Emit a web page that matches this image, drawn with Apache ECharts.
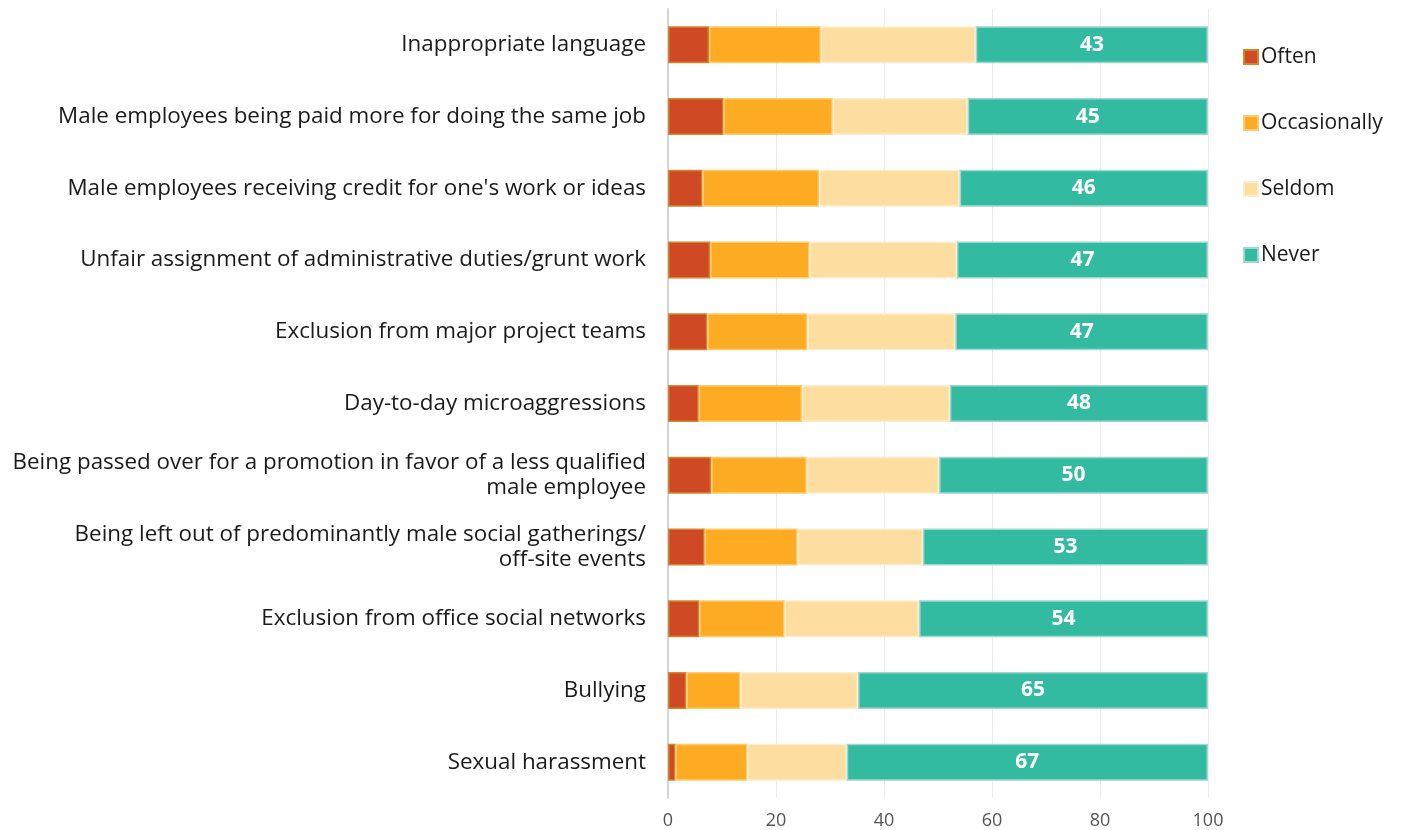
<!DOCTYPE html>
<html><head><meta charset="utf-8">
<script src="https://cdn.jsdelivr.net/npm/echarts@6/dist/echarts.min.js"></script>
<style>html,body{margin:0;padding:0;background:#fff}#c{width:1401px;height:830px}</style>
</head><body><div id="c"></div>
<script>
const categories = [
  "Inappropriate language",
  "Male employees being paid more for doing the same job",
  "Male employees receiving credit for one's work or ideas",
  "Unfair assignment of administrative duties/grunt work",
  "Exclusion from major project teams",
  "Day-to-day microaggressions",
  "Being passed over for a promotion in favor of a less qualified\nmale employee",
  "Being left out of predominantly male social gatherings/\noff-site events",
  "Exclusion from office social networks",
  "Bullying",
  "Sexual harassment"
];
const often        = [7.6, 10.3, 6.4, 7.8, 7.3, 5.7, 8.0, 6.8, 5.8, 3.4, 1.4];
const occasionally = [20.7, 20.2, 21.6, 18.4, 18.5, 19.1, 17.7, 17.2, 15.8, 10.0, 13.3];
const seldom       = [28.7, 25.0, 26.0, 27.3, 27.4, 27.4, 24.5, 23.2, 24.9, 21.8, 18.4];
const never        = [43.0, 44.5, 46.0, 46.5, 46.8, 47.8, 49.8, 52.8, 53.5, 64.8, 66.9];
const xTicks = [0, 20, 40, 60, 80, 100];

const font = '"Open Sans", "Noto Sans", sans-serif';
function s(name, data, color, border, label) {
  return {
    name, type: 'bar', stack: 'all', data, barWidth: 37,
    itemStyle: { color, borderColor: border, borderWidth: 1.5 },
    label: label ? { show: true, position: 'inside', color: '#fff', fontWeight: 'bold', fontSize: 21, fontFamily: font,
      formatter: p => Math.round(p.value) } : { show: false },
    emphasis: { disabled: true }
  };
}
const chart = echarts.init(document.getElementById('c'));
chart.setOption({
  animation: false,
  textStyle: { fontFamily: font },
  grid: { left: 668, right: 193, top: 9, bottom: 31, containLabel: false },
  legend: {
    orient: 'vertical', left: 1243, top: 46, padding: 0, itemGap: 44, itemWidth: 14, itemHeight: 14,
    icon: 'rect', textStyle: { fontSize: 21, lineHeight: 22, color: '#1a1a1a', fontFamily: font, padding: [0, 0, 0, -2] },
    data: ['Often', 'Occasionally', 'Seldom', 'Never']
  },
  xAxis: {
    type: 'value', min: 0, max: 100, interval: 20,
    axisLine: { show: false }, axisTick: { show: false },
    splitLine: { show: true, lineStyle: { color: '#ececec', width: 1 } },
    axisLabel: { color: '#555', fontSize: 18, margin: 14, fontFamily: font,
      formatter: v => xTicks.includes(v) ? String(v) : '' }
  },
  yAxis: {
    type: 'category', inverse: true, data: categories,
    axisLine: { show: true, lineStyle: { color: '#d4d4d4', width: 2 } },
    axisTick: { show: false },
    axisLabel: { color: '#1a1a1a', fontSize: 22.4, margin: 22, align: 'right', lineHeight: 25, fontFamily: font }
  },
  series: [
    s('Often', often, '#CF4A24', '#D3862C', false),
    s('Occasionally', occasionally, '#FCAB22', '#FDCB6C', false),
    s('Seldom', seldom, '#FDDDA0', '#FEEDCC', false),
    s('Never', never, '#33BBA2', '#9ED8CF', true)
  ]
});
</script></body></html>
